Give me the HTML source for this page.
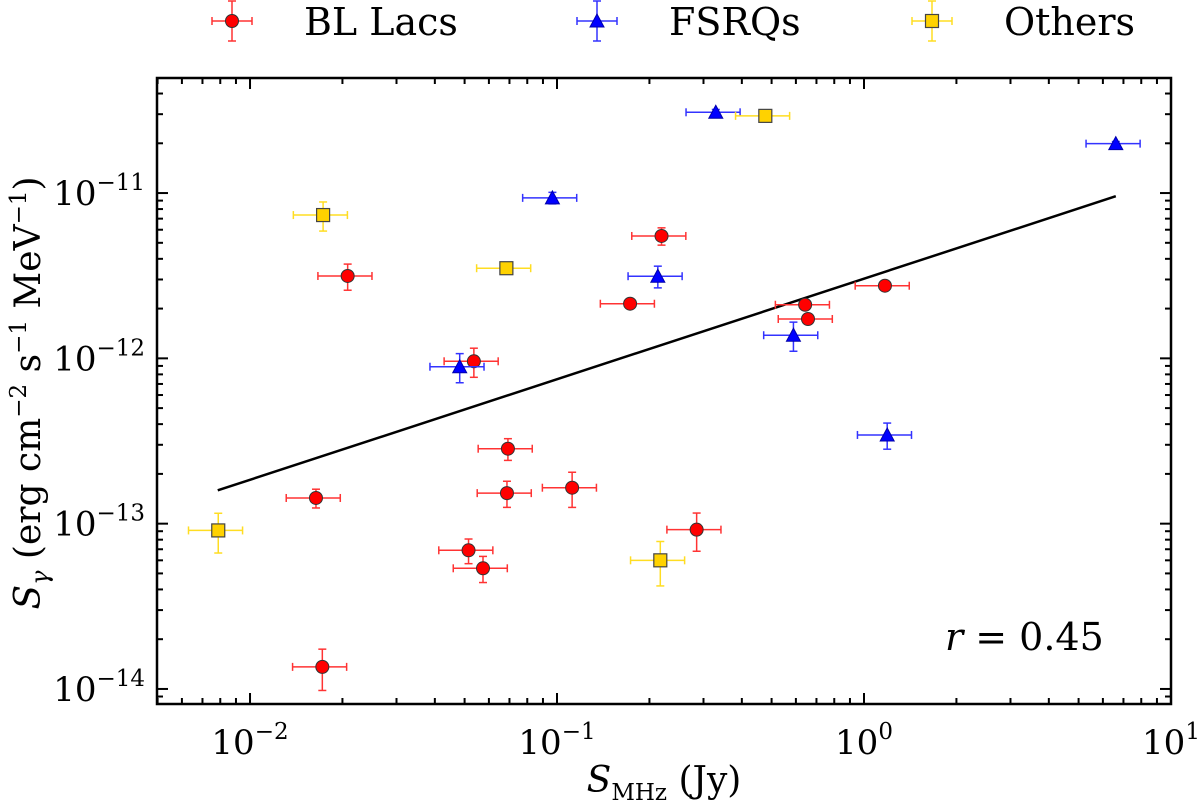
<!DOCTYPE html>
<html><head><meta charset="utf-8"><style>
html,body{margin:0;padding:0;background:#fff;}
svg{display:block;font-family:"DejaVu Serif","Liberation Serif",serif;}
</style></head><body>
<svg id="chart" width="1200" height="804" viewBox="0 0 1200 804" xmlns="http://www.w3.org/2000/svg">
<g id="legend"></g>
<g id="grid"></g>
<g id="marks"></g>
<rect x="157" y="78" width="1014" height="626" fill="none" stroke="#000" stroke-width="2.5"/>
<text x="664" y="792" font-size="36" text-anchor="middle"><tspan font-style="italic">S</tspan><tspan font-size="23" dy="8">MHz</tspan><tspan dy="-8"> (Jy)</tspan></text>
<text transform="translate(40,393) rotate(-90)" font-size="36" text-anchor="middle"><tspan font-style="italic">S</tspan><tspan font-size="24" dy="8" font-style="italic">γ</tspan><tspan dy="-8"> (erg cm</tspan><tspan font-size="23" dy="-14">−2</tspan><tspan dy="14"> s</tspan><tspan font-size="23" dy="-14">−1</tspan><tspan dy="14"> MeV</tspan><tspan font-size="23" dy="-14">−1</tspan><tspan dy="14">)</tspan></text>
<text x="945" y="650" font-size="38"><tspan font-style="italic">r</tspan> = 0.45</text>
</svg>
<script>
// Data
const blX = [0.0208,0.219,0.173,0.0536,0.0692,0.0687,0.112,0.0164,0.0515,0.0574,0.0172,1.17,0.643,0.657,0.285];
const blY = [3.15e-12,5.5e-12,2.14e-12,9.6e-13,2.84e-13,1.53e-13,1.65e-13,1.43e-13,6.9e-14,5.37e-14,1.36e-14,2.75e-12,2.11e-12,1.73e-12,9.2e-14];
const blYerr = [0.18,0.12,0.03,0.2,0.15,0.18,0.24,0.13,0.17,0.18,0.28,0.04,0.05,0.05,0.26];
const fsX = [0.329,0.0966,0.0482,0.213,6.61,0.589,1.19];
const fsY = [3.08e-11,9.35e-12,8.9e-13,3.14e-12,1.99e-11,1.38e-12,3.44e-13];
const fsYerr = [0.04,0.08,0.2,0.15,0.03,0.2,0.18];
const otX = [0.0173,0.0684,0.00788,0.217,0.477];
const otY = [7.36e-12,3.51e-12,9.1e-14,6.0e-14,2.93e-11];
const otYerr = [0.2,0.05,0.27,0.3,0.04];
const xErrFrac = 0.2;
const fitX = [0.00785,6.61];
const fitY = [1.59e-13,9.57e-12];
const xTickExp = [-2,-1,0,1];
const yTickExp = [-14,-13,-12,-11];

const NS="http://www.w3.org/2000/svg";
const L=157,R=1171,T=78,B=704;
const xMinL=-2.303,xMaxL=1,yMinL=-14.091,yMaxL=-10.304;
function sx(v){return L+(Math.log10(v)-xMinL)/(xMaxL-xMinL)*(R-L);}
function sy(v){return B-(Math.log10(v)-yMinL)/(yMaxL-yMinL)*(B-T);}
function mk(tag,attrs,parent){const e=document.createElementNS(NS,tag);for(const k in attrs)e.setAttribute(k,attrs[k]);parent.appendChild(e);return e;}
const grid=document.getElementById('grid'),marks=document.getElementById('marks'),legend=document.getElementById('legend');

for(let e=-3;e<=1;e++){for(let m=1;m<10;m++){const v=m*Math.pow(10,e);const lv=Math.log10(v);if(lv<xMinL-1e-6||lv>xMaxL+1e-6)continue;const x=sx(v);const len=m===1?11:6;
const t1=mk('line',{x1:x,x2:x,y1:B,y2:B-len,stroke:'#000','stroke-width':2},grid);


const t2=mk('line',{x1:x,x2:x,y1:T,y2:T+len,stroke:'#000','stroke-width':2},grid);

}}
for(let e=-15;e<=-10;e++){for(let m=1;m<10;m++){const v=m*Math.pow(10,e);const lv=Math.log10(v);if(lv<yMinL-1e-6||lv>yMaxL+1e-6)continue;const y=sy(v);const len=m===1?11:6;
const t1=mk('line',{x1:L,x2:L+len,y1:y,y2:y,stroke:'#000','stroke-width':2},grid);


const t2=mk('line',{x1:R,x2:R-len,y1:y,y2:y,stroke:'#000','stroke-width':2},grid);

}}
xTickExp.forEach(e=>{const x=sx(Math.pow(10,e));const t=mk('text',{x:x,y:754,'font-size':34,'text-anchor':'middle'},grid);


t.innerHTML='10<tspan font-size="23" dy="-15">'+(e<0?'−'+(-e):e)+'</tspan>';});
yTickExp.forEach(e=>{const y=sy(Math.pow(10,e));const t=mk('text',{x:145,y:y+12,'font-size':34,'text-anchor':'end'},grid);


t.innerHTML='10<tspan font-size="23" dy="-15">−'+(-e)+'</tspan>';});

const fl=mk('line',{x1:sx(fitX[0]),y1:sy(fitY[0]),x2:sx(fitX[1]),y2:sy(fitY[1]),stroke:'#000','stroke-width':2.5},marks);



function errbar(g,x,y,ex,ey,col){
  const x1=sx(x*(1-ex)),x2=sx(x*(1+ex)),cy=sy(y),cx=sx(x),y1=sy(y*(1+ey)),y2=sy(y*(1-ey));
  mk('line',{x1:x1,x2:x2,y1:cy,y2:cy,stroke:col,'stroke-width':1.5},g);
  mk('line',{x1:cx,x2:cx,y1:y1,y2:y2,stroke:col,'stroke-width':1.5},g);
  [x1,x2].forEach(xx=>mk('line',{x1:xx,x2:xx,y1:cy-4,y2:cy+4,stroke:col,'stroke-width':1.5},g));
  [y1,y2].forEach(yy=>mk('line',{x1:cx-4,x2:cx+4,y1:yy,y2:yy,stroke:col,'stroke-width':1.5},g));
}
function marker(g,type,cx,cy){
  if(type==='circle')mk('circle',{cx:cx,cy:cy,r:6.5,fill:'#f00',stroke:'#333','stroke-width':1},g);
  else if(type==='tri')mk('polygon',{points:`${cx},${cy-7} ${cx-7},${cy+6} ${cx+7},${cy+6}`,fill:'#00f',stroke:'#00a','stroke-width':1},g);
  else mk('rect',{x:cx-6.5,y:cy-6.5,width:13,height:13,fill:'#ffd200',stroke:'#444','stroke-width':1.2},g);
}
const series=[
 {name:'bl-lac',xs:blX,ys:blY,ye:blYerr,col:'#f33',type:'circle'},
 {name:'fsrq',xs:fsX,ys:fsY,ye:fsYerr,col:'#33f',type:'tri'},
 {name:'others',xs:otX,ys:otY,ye:otYerr,col:'#fd2',type:'sq'}];
series.forEach(s=>{s.xs.forEach((x,i)=>{const g=mk('g',{},marks);


errbar(g,x,s.ys[i],xErrFrac,s.ye[i],s.col);marker(g,s.type,sx(x),sy(s.ys[i]));});});

const legItems=[{label:'BL Lacs',x:232,col:'#f33',type:'circle'},{label:'FSRQs',x:597,col:'#33f',type:'tri'},{label:'Others',x:932,col:'#fd2',type:'sq'}];
legItems.forEach(it=>{const g=mk('g',{},legend);


const cy=21;
mk('line',{x1:it.x-20,x2:it.x+20,y1:cy,y2:cy,stroke:it.col,'stroke-width':1.5},g);
mk('line',{x1:it.x,x2:it.x,y1:cy-20,y2:cy+20,stroke:it.col,'stroke-width':1.5},g);
[it.x-20,it.x+20].forEach(xx=>mk('line',{x1:xx,x2:xx,y1:cy-4,y2:cy+4,stroke:it.col,'stroke-width':1.5},g));
[cy-20,cy+20].forEach(yy=>mk('line',{x1:it.x-4,x2:it.x+4,y1:yy,y2:yy,stroke:it.col,'stroke-width':1.5},g));
marker(g,it.type,it.x,cy);
const t=mk('text',{x:it.x+72,y:35,'font-size':38},g);t.textContent=it.label;});
</script>
</body></html>
